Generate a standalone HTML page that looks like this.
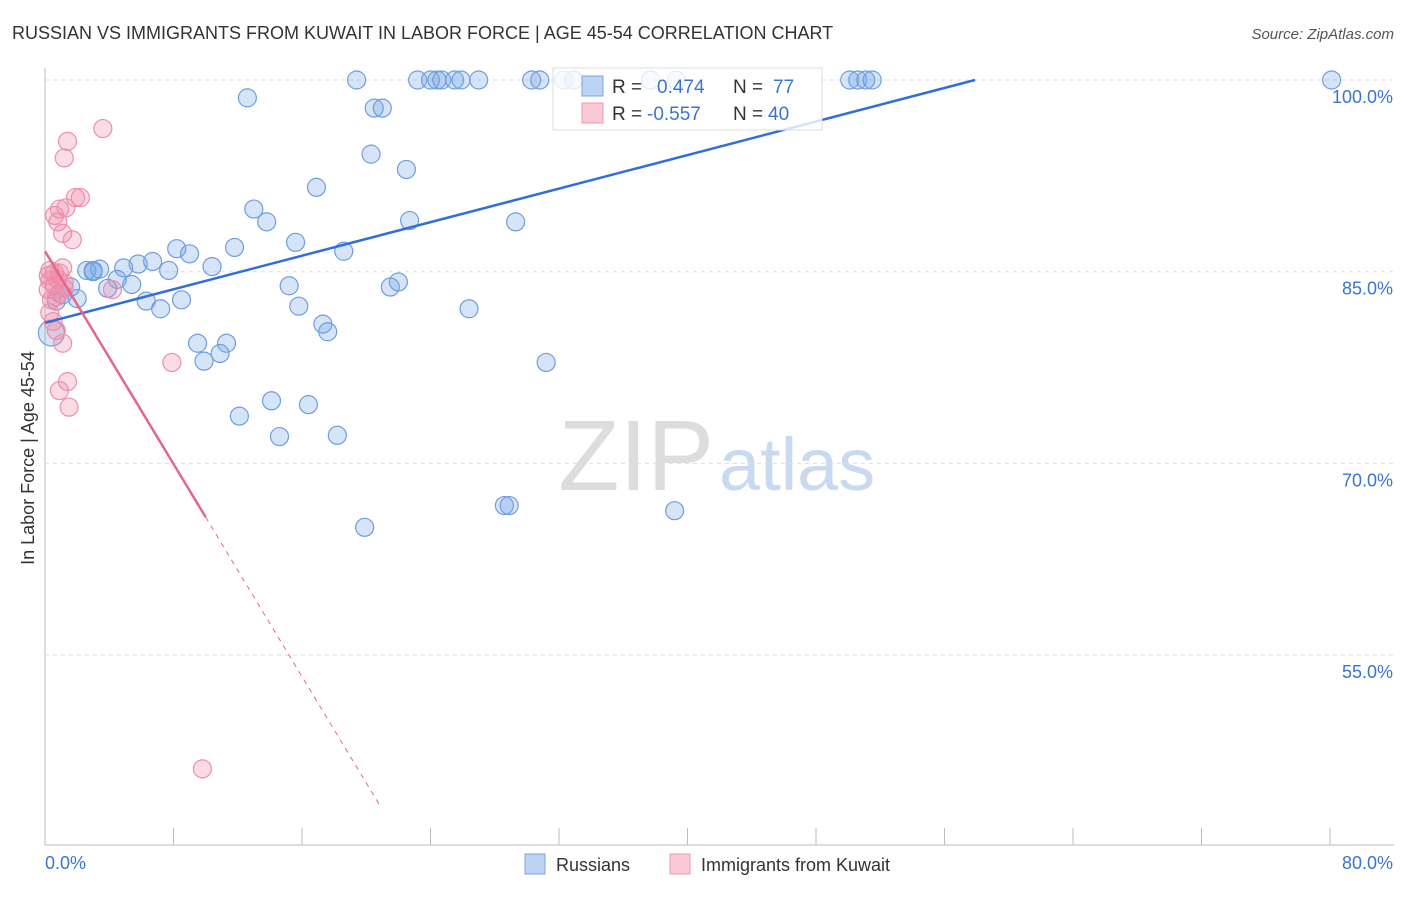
<!DOCTYPE html>
<html><head><meta charset="utf-8"><style>
body{margin:0;background:#fff;font-family:"Liberation Sans",sans-serif;}
svg text{font-family:"Liberation Sans",sans-serif;}
</style></head><body>
<svg id="chart" width="1406" height="892">
<text x="12" y="39" font-size="18" fill="#333">RUSSIAN VS IMMIGRANTS FROM KUWAIT IN LABOR FORCE | AGE 45-54 CORRELATION CHART</text>
<text x="1394" y="39" font-size="15" fill="#555" text-anchor="end" font-style="italic">Source: ZipAtlas.com</text>
<text x="714" y="490" font-size="100" fill="#ddd" text-anchor="end" font-family="Liberation Serif">ZIP</text>
<text x="719" y="490" font-size="74" fill="#c9daf0">atlas</text>
<g id="grid"></g>
<g id="marks"></g>
<text transform="translate(34,458) rotate(-90)" font-size="18" fill="#333" text-anchor="middle">In Labor Force | Age 45-54</text>
<text x="45" y="869" font-size="18" fill="#3b74d0">0.0%</text>
<text x="1393" y="869" font-size="18" fill="#3b74d0" text-anchor="end">80.0%</text>
<g>
<rect x="553" y="68" width="269" height="62" fill="#fff" fill-opacity="0.8" stroke="#ddd"/>
<rect x="582" y="76" width="21" height="20" fill="#bcd3f3" stroke="#7aa5e0"/>
<rect x="582" y="103" width="21" height="20" fill="#f9c9d6" stroke="#ec9ab2"/>
<text x="612" y="93" font-size="19" fill="#333">R = <tspan fill="#3b74d0" x="657">0.474</tspan><tspan x="733">N = </tspan><tspan fill="#3b74d0" x="773">77</tspan></text>
<text x="612" y="120" font-size="19" fill="#333">R = <tspan fill="#3b74d0" x="647">-0.557</tspan><tspan x="733">N = </tspan><tspan fill="#3b74d0" x="768">40</tspan></text>
</g>
<g>
<rect x="525" y="854" width="20" height="20" fill="#bcd3f3" stroke="#7aa5e0"/>
<text x="556" y="871" font-size="18" fill="#333">Russians</text>
<rect x="670" y="854" width="20" height="20" fill="#f9c9d6" stroke="#ec9ab2"/>
<text x="701" y="871" font-size="18" fill="#333">Immigrants from Kuwait</text>
</g>
</svg>
<script>
const yTicks=[100,85,70,55];
const blueX=[19.4,23.2,24.0,24.4,24.7,25.5,25.9,27.0,30.3,30.8,32.3,32.9,37.7,39.3,50.1,50.6,51.1,51.5,80.1,12.6,20.5,21.0,20.3,22.5,16.9,13.0,13.8,22.7,29.3,15.6,8.2,9.0,11.8,18.6,2.6,3.0,3.4,4.9,5.8,6.7,7.7,10.4,4.5,5.4,3.9,2.0,6.3,8.5,7.2,15.2,21.5,22.0,15.8,26.4,17.3,17.6,9.5,11.3,10.9,9.9,31.2,14.1,16.4,12.1,14.6,18.2,28.6,28.9,39.2,19.9,0.4,1.6,1.1,0.7,3.0];
const blueY=[100,100,100,100,100,100,100,100,100,100,100,100,100,100,100,100,100,100,100,98.6,97.8,97.8,94.2,93.0,91.6,89.9,88.9,89.0,88.9,87.3,86.8,86.4,86.9,86.6,85.1,85.1,85.2,85.3,85.6,85.8,85.1,85.4,84.4,84.0,83.7,82.9,82.7,82.8,82.1,83.9,83.8,84.2,82.3,82.1,80.9,80.3,79.4,79.4,78.6,78.0,77.9,74.9,74.6,73.7,72.1,72.2,66.7,66.7,66.3,65.0,80.2,83.8,83.2,82.7,85.0];
const pinkX=[3.6,1.4,1.2,1.9,2.2,0.9,1.3,0.6,0.8,1.1,1.7,0.3,0.6,0.9,1.1,0.3,0.6,0.2,0.9,1.2,0.4,0.7,0.3,0.5,0.7,1.1,4.2,7.9,1.4,0.9,1.5,9.8,0.2,0.8,1.2];
const pinkY=[96.2,95.2,93.9,90.8,90.8,89.9,90.0,89.4,88.9,88.0,87.5,85.1,84.9,84.9,85.3,84.3,83.9,83.6,83.3,83.7,82.8,83.0,81.8,81.1,80.4,79.4,83.6,77.9,76.4,75.7,74.4,46.1,84.7,84.4,84.1];
const isBig=70;
const X=v=>45+v/80*1285, Y=v=>80+(100-v)*12.78;
const NS="http://www.w3.org/2000/svg";
const grid=document.getElementById('grid'),marks=document.getElementById('marks');
function mk(tag,attrs,parent){const e=document.createElementNS(NS,tag);for(const k in attrs)e.setAttribute(k,attrs[k]);parent.appendChild(e);return e;}
let ax=mk('line',{x1:45,y1:68,x2:45,y2:845,stroke:'#bbb'},grid);


let bx=mk('line',{x1:45,y1:845,x2:1394,y2:845,stroke:'#bbb'},grid);


yTicks.forEach(t=>{
 let l=mk('line',{x1:45,y1:Y(t),x2:1394,y2:Y(t),stroke:'#ddd','stroke-dasharray':'4,4'},grid);
 
 
 let tx=mk('text',{x:1393,y:Y(t)+23,'font-size':18,fill:'#3b74d0','text-anchor':'end'},grid);
 tx.textContent=t.toFixed(1)+'%';
 
 
});
for(let i=0;i<=10;i++){const v=i*8;
 let l=mk('line',{x1:X(v),y1:828,x2:X(v),y2:845,stroke:'#bbb'},grid);
 
 
}
blueX.forEach((v,i)=>{
 let c=mk('circle',{cx:X(v),cy:Y(blueY[i]),r:i===isBig?13:9,fill:'rgba(120,165,230,0.3)',stroke:'#6e9de0','stroke-width':1.2},marks);
 
 
});
pinkX.forEach((v,i)=>{
 let c=mk('circle',{cx:X(v),cy:Y(pinkY[i]),r:9,fill:'rgba(240,140,170,0.3)',stroke:'#ec8fab','stroke-width':1.2},marks);
 
 
});
const blueFit=[81.0,57.9,100];
let bl=mk('line',{x1:X(0),y1:Y(blueFit[0]),x2:X(blueFit[1]),y2:Y(blueFit[2]),stroke:'#2f6fd6','stroke-width':2.5},marks);


const pinkFit=[86.6,-2.08];
const py=v=>pinkFit[0]+pinkFit[1]*v;
let pl=mk('line',{x1:X(0),y1:Y(py(0)),x2:X(10),y2:Y(py(10)),stroke:'#e4668f','stroke-width':2.5},marks);


let pd=mk('line',{x1:X(10),y1:Y(py(10)),x2:X(20.9),y2:Y(py(20.9)),stroke:'#e4668f','stroke-width':1,'stroke-dasharray':'5,5'},marks);


</script>
</body></html>
